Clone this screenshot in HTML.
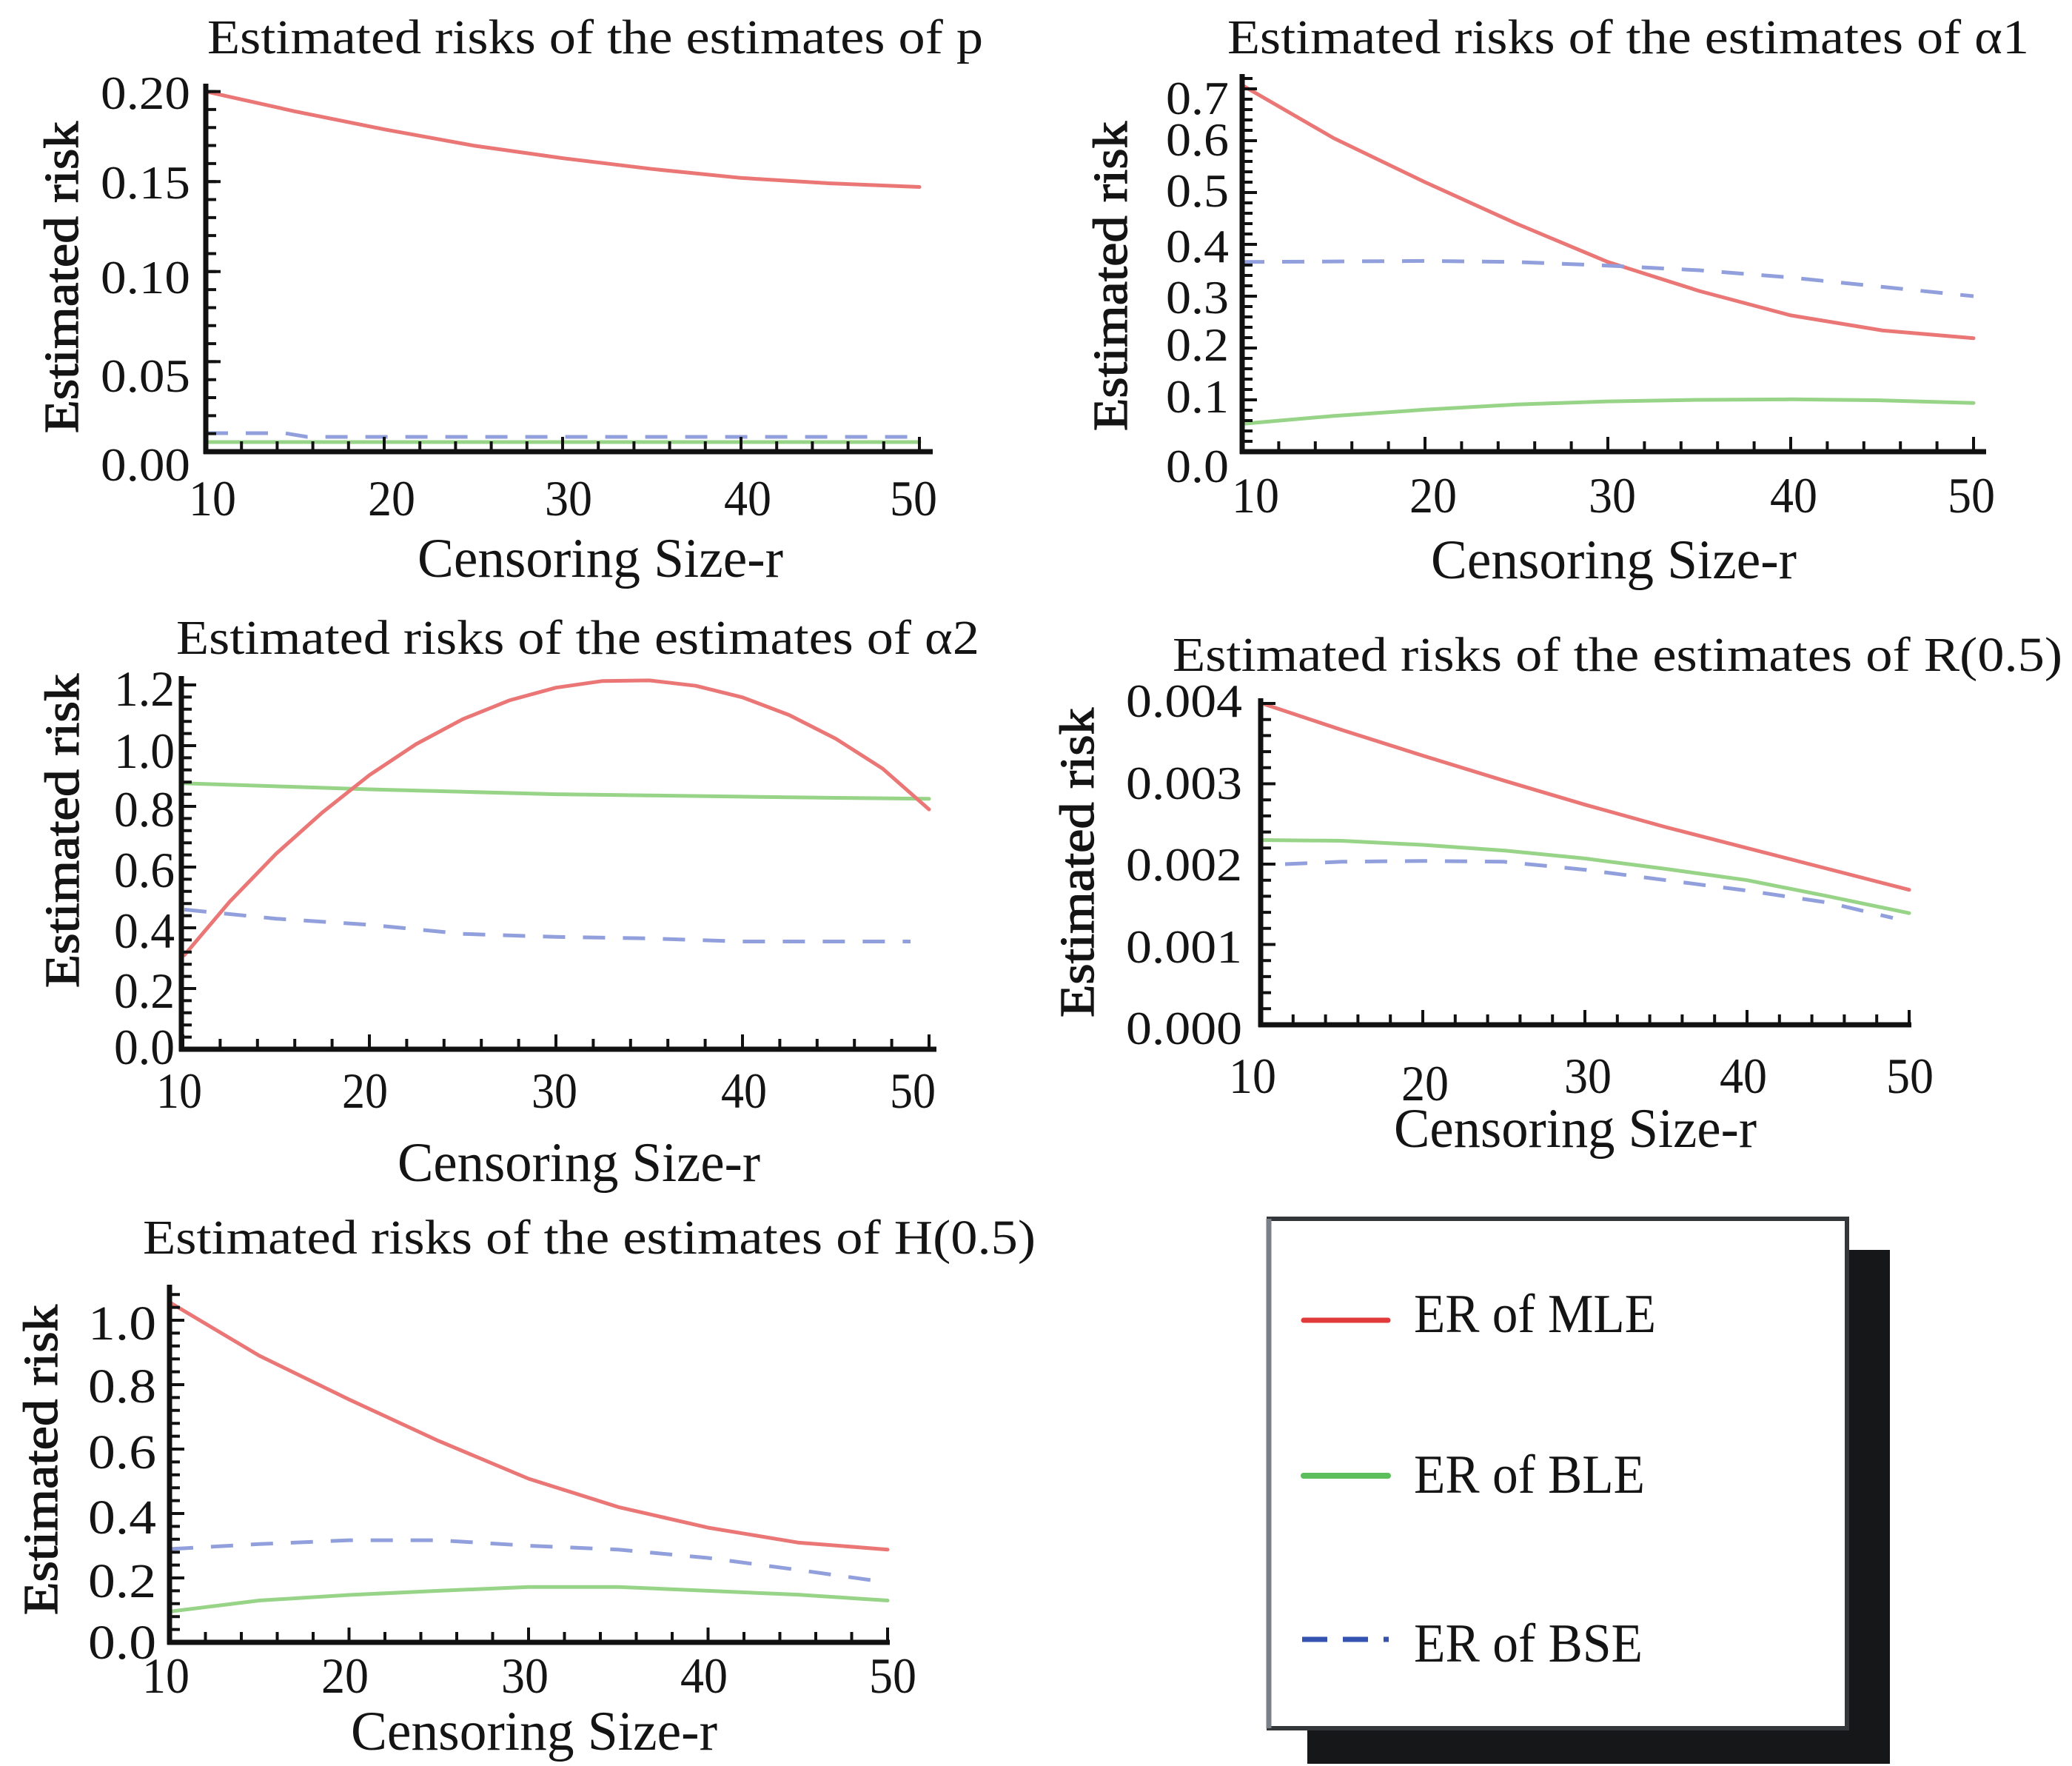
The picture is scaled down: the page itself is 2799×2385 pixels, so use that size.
<!DOCTYPE html>
<html><head><meta charset="utf-8"><style>
html,body{margin:0;padding:0;background:#fff;}
svg{display:block;}
text{font-family:"Liberation Serif",serif;fill:#141414;}
.ax{stroke:#111;stroke-width:7;fill:none;}
.tk{stroke:#111;fill:none;}
.red{stroke:#ea7676;stroke-width:5;fill:none;stroke-linejoin:round;stroke-linecap:round;}
.grn{stroke:#98d488;stroke-width:5;fill:none;stroke-linejoin:round;stroke-linecap:round;}
.blu{stroke:#91a0dc;stroke-width:5;fill:none;stroke-dasharray:30 24;stroke-linejoin:round;}
.er{font-size:66px;stroke:#141414;stroke-width:1.3;}
.cs{font-size:75px;}
.ttl{font-size:66px;}
</style></head><body>
<svg width="2799" height="2385" viewBox="0 0 2799 2385" xmlns="http://www.w3.org/2000/svg">
<rect width="2799" height="2385" fill="#fff"/>

<!-- ================= Panel 1 ================= -->
<text x="280" y="72" class="ttl" textLength="1048" lengthAdjust="spacingAndGlyphs">Estimated risks of the estimates of p</text>
<polyline class="red" points="278,123.6 398.5,150.4 519,174.7 639.5,196.6 760,213.6 880.5,228.2 1001,240.3 1121.5,247.6 1242,252.5"/>
<path class="blu" d="M278,585 L385,585 L415,590 L1230,590"/>
<path class="grn" d="M280,597 L1242,597"/>
<path class="ax" d="M278,113 V613 M275,610 H1260"/>
<path class="tk" stroke-width="14" stroke-dasharray="4 20.32" d="M285,612 V110"/>
<path class="tk" stroke-width="20" stroke-dasharray="4 117.6" d="M288,612 V110"/>
<path class="tk" stroke-width="14" stroke-dasharray="4 44.2" d="M276,603 H1250"/>
<path class="tk" stroke-width="20" stroke-dasharray="4 237" d="M276,600 H1250"/>
<g font-size="64" text-anchor="end">
<text x="257" y="147" textLength="121" lengthAdjust="spacingAndGlyphs">0.20</text>
<text x="257" y="268" textLength="121" lengthAdjust="spacingAndGlyphs">0.15</text>
<text x="257" y="396" textLength="121" lengthAdjust="spacingAndGlyphs">0.10</text>
<text x="257" y="529" textLength="121" lengthAdjust="spacingAndGlyphs">0.05</text>
<text x="257" y="649" textLength="121" lengthAdjust="spacingAndGlyphs">0.00</text>
</g>
<g font-size="68" text-anchor="middle">
<text x="287" y="696" textLength="64" lengthAdjust="spacingAndGlyphs">10</text>
<text x="529" y="696" textLength="64" lengthAdjust="spacingAndGlyphs">20</text>
<text x="768" y="696" textLength="64" lengthAdjust="spacingAndGlyphs">30</text>
<text x="1010" y="696" textLength="64" lengthAdjust="spacingAndGlyphs">40</text>
<text x="1234" y="696" textLength="64" lengthAdjust="spacingAndGlyphs">50</text>
</g>
<text x="564" y="779" class="cs" textLength="494" lengthAdjust="spacingAndGlyphs">Censoring Size-r</text>
<text class="er" transform="translate(105,374.5) rotate(-90)" text-anchor="middle" textLength="421" lengthAdjust="spacingAndGlyphs">Estimated risk</text>

<!-- ================= Panel 2 ================= -->
<text x="1658" y="72" class="ttl" textLength="1083" lengthAdjust="spacingAndGlyphs">Estimated risks of the estimates of α1</text>
<polyline class="red" points="1678,115.1 1801.5,186.5 1925,246 2048.5,302 2172,353.8 2295.5,393 2419,425.9 2542.5,446.2 2666,456.7"/>
<polyline class="blu" points="1678,353.8 1801.5,353.1 1925,352.4 2048.5,353.8 2172,358.7 2295.5,365 2419,374.8 2542.5,387.4 2666,400"/>
<polyline class="grn" points="1680,572.2 1801.5,561.7 1925,553.3 2048.5,546.3 2172,542.1 2295.5,540 2419,539.3 2542.5,540.7 2666,544.2"/>
<path class="ax" d="M1678,100 V613 M1675,610 H2683"/>
<path class="tk" stroke-width="14" stroke-dasharray="4 10" d="M1685,612 V100"/>
<path class="tk" stroke-width="20" stroke-dasharray="4 66" d="M1688,612 V100"/>
<path class="tk" stroke-width="14" stroke-dasharray="4 45.4" d="M1676,603 H2675"/>
<path class="tk" stroke-width="20" stroke-dasharray="4 243" d="M1676,600 H2675"/>
<g font-size="64" text-anchor="end">
<text x="1660" y="154" textLength="85" lengthAdjust="spacingAndGlyphs">0.7</text>
<text x="1660" y="210" textLength="85" lengthAdjust="spacingAndGlyphs">0.6</text>
<text x="1660" y="279" textLength="85" lengthAdjust="spacingAndGlyphs">0.5</text>
<text x="1660" y="354" textLength="85" lengthAdjust="spacingAndGlyphs">0.4</text>
<text x="1660" y="423" textLength="85" lengthAdjust="spacingAndGlyphs">0.3</text>
<text x="1660" y="487" textLength="85" lengthAdjust="spacingAndGlyphs">0.2</text>
<text x="1660" y="557" textLength="85" lengthAdjust="spacingAndGlyphs">0.1</text>
<text x="1660" y="651" textLength="85" lengthAdjust="spacingAndGlyphs">0.0</text>
</g>
<g font-size="68" text-anchor="middle">
<text x="1696" y="692" textLength="64" lengthAdjust="spacingAndGlyphs">10</text>
<text x="1936" y="692" textLength="64" lengthAdjust="spacingAndGlyphs">20</text>
<text x="2178" y="692" textLength="64" lengthAdjust="spacingAndGlyphs">30</text>
<text x="2423" y="692" textLength="64" lengthAdjust="spacingAndGlyphs">40</text>
<text x="2663" y="692" textLength="64" lengthAdjust="spacingAndGlyphs">50</text>
</g>
<text x="1933" y="781" class="cs" textLength="494" lengthAdjust="spacingAndGlyphs">Censoring Size-r</text>
<text class="er" transform="translate(1522,373) rotate(-90)" text-anchor="middle" textLength="418" lengthAdjust="spacingAndGlyphs">Estimated risk</text>

<!-- ================= Panel 3 ================= -->
<text x="238" y="883" class="ttl" textLength="1085" lengthAdjust="spacingAndGlyphs">Estimated risks of the estimates of α2</text>
<polyline class="grn" points="249,1057.8 373,1061.9 499,1066 625,1069.3 751,1072.6 877,1074.2 1003,1075.9 1129,1077.5 1255,1078.8"/>
<polyline class="blu" points="249,1228.4 373,1240.7 499,1248.9 625,1261.2 751,1265.3 877,1267.4 1003,1271.5 1230,1271.5"/>
<polyline class="red" points="249,1290 310,1218 373,1153 436,1096.8 499,1046.8 562,1005 625,971.3 688,945.9 751,928.7 814,919.7 877,918.9 940,926.2 1003,941.8 1066,965.6 1129,997.6 1192,1037.8 1255,1093.1"/>
<path class="ax" d="M245,913 V1420 M242,1417 H1265"/>
<path class="tk" stroke-width="14" stroke-dasharray="4 12.4" d="M252,1419 V913"/>
<path class="tk" stroke-width="20" stroke-dasharray="4 78" d="M255,1419 V913"/>
<path class="tk" stroke-width="14" stroke-dasharray="4 46.4" d="M245,1410 H1262"/>
<path class="tk" stroke-width="20" stroke-dasharray="4 248" d="M245,1407 H1262"/>
<g font-size="68" text-anchor="end">
<text x="236" y="953" textLength="82" lengthAdjust="spacingAndGlyphs">1.2</text>
<text x="236" y="1037" textLength="82" lengthAdjust="spacingAndGlyphs">1.0</text>
<text x="236" y="1116" textLength="82" lengthAdjust="spacingAndGlyphs">0.8</text>
<text x="236" y="1198" textLength="82" lengthAdjust="spacingAndGlyphs">0.6</text>
<text x="236" y="1280" textLength="82" lengthAdjust="spacingAndGlyphs">0.4</text>
<text x="236" y="1361" textLength="82" lengthAdjust="spacingAndGlyphs">0.2</text>
<text x="236" y="1437" textLength="82" lengthAdjust="spacingAndGlyphs">0.0</text>
</g>
<g font-size="68" text-anchor="middle">
<text x="242" y="1496" textLength="62" lengthAdjust="spacingAndGlyphs">10</text>
<text x="493" y="1496" textLength="62" lengthAdjust="spacingAndGlyphs">20</text>
<text x="749" y="1496" textLength="62" lengthAdjust="spacingAndGlyphs">30</text>
<text x="1005" y="1496" textLength="62" lengthAdjust="spacingAndGlyphs">40</text>
<text x="1233" y="1496" textLength="62" lengthAdjust="spacingAndGlyphs">50</text>
</g>
<text x="537" y="1595" class="cs" textLength="490" lengthAdjust="spacingAndGlyphs">Censoring Size-r</text>
<text class="er" transform="translate(106,1122) rotate(-90)" text-anchor="middle" textLength="424" lengthAdjust="spacingAndGlyphs">Estimated risk</text>

<!-- ================= Panel 4 ================= -->
<text x="1584" y="906" class="ttl" textLength="1202" lengthAdjust="spacingAndGlyphs">Estimated risks of the estimates of R(0.5)</text>
<polyline class="red" points="1705,950 1812.5,985.8 1922,1020.5 2031.5,1054.2 2141,1086.7 2250.5,1117.1 2360,1145.3 2469.5,1173.5 2579,1201.7"/>
<polyline class="grn" points="1705,1134.5 1812.5,1135.5 1922,1141 2031.5,1148.6 2141,1159.4 2250.5,1173.5 2360,1188.7 2469.5,1210.4 2579,1233.2"/>
<polyline class="blu" points="1736,1167 1812.5,1163.8 1922,1162.7 2031.5,1163.8 2141,1174.6 2250.5,1188.7 2360,1202.8 2469.5,1219 2557,1239.7"/>
<path class="ax" d="M1703,943 V1387 M1700,1384 H2582"/>
<path class="tk" stroke-width="14" stroke-dasharray="4 17.7" d="M1710,1386 V943"/>
<path class="tk" stroke-width="20" stroke-dasharray="4 104.5" d="M1713,1386 V943"/>
<path class="tk" stroke-width="14" stroke-dasharray="4 39.8" d="M1701,1377 H2582"/>
<path class="tk" stroke-width="20" stroke-dasharray="4 215" d="M1701,1374 H2582"/>
<g font-size="64" text-anchor="end">
<text x="1678" y="968" textLength="157" lengthAdjust="spacingAndGlyphs">0.004</text>
<text x="1678" y="1079" textLength="157" lengthAdjust="spacingAndGlyphs">0.003</text>
<text x="1678" y="1189" textLength="157" lengthAdjust="spacingAndGlyphs">0.002</text>
<text x="1678" y="1300" textLength="157" lengthAdjust="spacingAndGlyphs">0.001</text>
<text x="1678" y="1410" textLength="157" lengthAdjust="spacingAndGlyphs">0.000</text>
</g>
<g font-size="68" text-anchor="middle">
<text x="1692" y="1476" textLength="64" lengthAdjust="spacingAndGlyphs">10</text>
<text x="1925" y="1486" textLength="64" lengthAdjust="spacingAndGlyphs">20</text>
<text x="2145" y="1476" textLength="64" lengthAdjust="spacingAndGlyphs">30</text>
<text x="2355" y="1476" textLength="64" lengthAdjust="spacingAndGlyphs">40</text>
<text x="2580" y="1476" textLength="64" lengthAdjust="spacingAndGlyphs">50</text>
</g>
<text x="1883" y="1549" class="cs" textLength="490" lengthAdjust="spacingAndGlyphs">Censoring Size-r</text>
<text class="er" transform="translate(1477,1165) rotate(-90)" text-anchor="middle" textLength="418" lengthAdjust="spacingAndGlyphs">Estimated risk</text>

<!-- ================= Panel 5 ================= -->
<text x="193" y="1693" class="ttl" textLength="1206" lengthAdjust="spacingAndGlyphs">Estimated risks of the estimates of H(0.5)</text>
<polyline class="red" points="231,1759.9 350.25,1830.9 471.5,1890 592.75,1946.1 714,1997 835.25,2035.3 956.5,2063.1 1077.75,2083.2 1199,2092.7"/>
<polyline class="blu" points="231,2091.9 350.25,2085.3 471.5,2080.1 592.75,2080.1 714,2087.5 835.25,2092.7 956.5,2104 1077.75,2120.1 1199,2137.1"/>
<polyline class="grn" points="231,2176.2 350.25,2161.5 471.5,2154 592.75,2148.4 714,2143.2 835.25,2143.2 956.5,2148.4 1077.75,2153.6 1199,2161.5"/>
<path class="ax" d="M229,1735 V2221 M226,2218 H1202"/>
<path class="tk" stroke-width="14" stroke-dasharray="4 13.4" d="M236,2220 V1735"/>
<path class="tk" stroke-width="20" stroke-dasharray="4 83" d="M239,2220 V1735"/>
<path class="tk" stroke-width="14" stroke-dasharray="4 44.5" d="M227,2211 H1202"/>
<path class="tk" stroke-width="20" stroke-dasharray="4 238.5" d="M227,2208 H1202"/>
<g font-size="66" text-anchor="end">
<text x="211" y="1809" textLength="92" lengthAdjust="spacingAndGlyphs">1.0</text>
<text x="211" y="1894" textLength="92" lengthAdjust="spacingAndGlyphs">0.8</text>
<text x="211" y="1983" textLength="92" lengthAdjust="spacingAndGlyphs">0.6</text>
<text x="211" y="2071" textLength="92" lengthAdjust="spacingAndGlyphs">0.4</text>
<text x="211" y="2157" textLength="92" lengthAdjust="spacingAndGlyphs">0.2</text>
<text x="211" y="2240" textLength="92" lengthAdjust="spacingAndGlyphs">0.0</text>
</g>
<g font-size="68" text-anchor="middle">
<text x="224" y="2286" textLength="64" lengthAdjust="spacingAndGlyphs">10</text>
<text x="466" y="2286" textLength="64" lengthAdjust="spacingAndGlyphs">20</text>
<text x="709" y="2286" textLength="64" lengthAdjust="spacingAndGlyphs">30</text>
<text x="951" y="2286" textLength="64" lengthAdjust="spacingAndGlyphs">40</text>
<text x="1206" y="2286" textLength="64" lengthAdjust="spacingAndGlyphs">50</text>
</g>
<text x="474" y="2363" class="cs" textLength="495" lengthAdjust="spacingAndGlyphs">Censoring Size-r</text>
<text class="er" transform="translate(77,1971.5) rotate(-90)" text-anchor="middle" textLength="419" lengthAdjust="spacingAndGlyphs">Estimated risk</text>

<!-- ================= Legend ================= -->
<rect x="1766" y="1688" width="787" height="694" fill="#161718"/>
<rect x="1714" y="1646" width="781" height="688" fill="#fff" stroke="#34373a" stroke-width="6"/>
<line x1="1714" y1="1646" x2="1714" y2="2334" stroke="#7a8088" stroke-width="7"/>
<line x1="1761" y1="1783" x2="1875" y2="1783" stroke="#e03a3a" stroke-width="7" stroke-linecap="round"/>
<line x1="1761" y1="1993" x2="1875" y2="1993" stroke="#5cbf5c" stroke-width="8" stroke-linecap="round"/>
<line x1="1759" y1="2214" x2="1876" y2="2214" stroke="#3452b0" stroke-width="7" stroke-dasharray="34 21"/>
<g font-size="74">
<text x="1910" y="1799" textLength="327" lengthAdjust="spacingAndGlyphs">ER of MLE</text>
<text x="1910" y="2016" textLength="312" lengthAdjust="spacingAndGlyphs">ER of BLE</text>
<text x="1910" y="2244" textLength="309" lengthAdjust="spacingAndGlyphs">ER of BSE</text>
</g>
</svg>
</body></html>
